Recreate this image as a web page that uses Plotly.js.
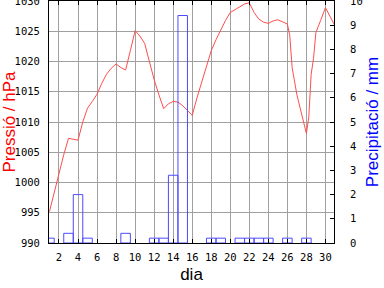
<!DOCTYPE html>
<html>
<head>
<meta charset="utf-8">
<script src="https://cdn.plot.ly/plotly-3.0.1.min.js"></script>
<style>html,body{margin:0;padding:0;background:#fff;}#chart{width:384px;height:288px;}</style>
</head>
<body>
<div id="chart"></div>
<script>
var pressDays = [1,1.5,2,2.5,3,3.5,4,4.5,5,5.5,6,6.5,7,7.5,8,8.5,9,9.5,10,10.5,11,11.5,12,12.5,13,13.5,14,14.5,15,15.5,16,16.5,17,17.5,18,18.5,19,19.5,20,20.5,21,21.5,22,22.5,23,23.5,24,24.5,25,25.5,26,26.25,26.5,27,27.5,28,28.25,28.5,28.75,29,29.5,30,30.5,31];
var pressure = [995.2,998.4,1001.6,1004.6,1007.3,1007.2,1007.0,1010.0,1012.3,1013.4,1014.6,1016.4,1017.9,1018.9,1019.6,1019.0,1018.6,1021.8,1025.1,1024.2,1023.0,1020.0,1017.0,1014.5,1012.2,1013.0,1013.4,1013.3,1012.7,1011.9,1011.1,1014.0,1016.6,1019.3,1021.8,1023.6,1025.3,1026.8,1028.1,1028.6,1029.0,1029.5,1029.7,1028.1,1027.0,1026.5,1026.3,1026.7,1026.9,1026.6,1026.2,1024.3,1019.0,1014.5,1011.4,1008.1,1010.8,1017.9,1020.5,1024.8,1026.8,1028.9,1027.4,1025.9];
var rainDays = [1,3,4,5,9,12,13,14,15,18,19,21,22,23,24,26,28];
var rain = [0.2,0.4,2.0,0.2,0.4,0.2,0.2,2.8,9.4,0.2,0.2,0.2,0.2,0.2,0.2,0.2,0.2];
var xTicks = [2,4,6,8,10,12,14,16,18,20,22,24,26,28,30];
var yTicks = [990,995,1000,1005,1010,1015,1020,1025,1030];
var y2Ticks = [0,1,2,3,4,5,6,7,8,9,10];

var tickFont = {family: 'DejaVu Sans Mono', size: 10.5, color: '#000'};
var traces = [
  {x: rainDays, y: rain, type: 'bar', yaxis: 'y2', width: 1,
   marker: {color: 'rgba(0,0,0,0)', line: {color: '#4b4bff', width: 1}},
   hoverinfo: 'none', showlegend: false},
  {x: pressDays, y: pressure, type: 'scatter', mode: 'lines',
   line: {color: '#ff4d4d', width: 1}, showlegend: false, hoverinfo: 'none'}
];
var layout = {
  width: 384, height: 288,
  margin: {l: 49, r: 50, t: 1, b: 45, pad: 0},
  paper_bgcolor: '#fff', plot_bgcolor: '#fff',
  showlegend: false,
  xaxis: {range: [0.95, 30.9], tickvals: xTicks, ticktext: xTicks.map(String),
    ticks: 'inside', ticklen: 4, tickcolor: '#000', tickfont: tickFont,
    showgrid: true, gridcolor: '#a0a0a0', gridwidth: 1,
    showline: true, linecolor: '#000', linewidth: 1, mirror: 'ticks',
    zeroline: false, ticklabelstandoff: 4, ticklabeloverflow: 'allow',
    title: {text: 'dia', font: {family: 'Liberation Sans', size: 17, color: '#000'}, standoff: 6}},
  yaxis: {range: [990, 1030], tickvals: yTicks, ticktext: yTicks.map(String),
    ticks: '', tickfont: tickFont,
    showgrid: true, gridcolor: '#a0a0a0', gridwidth: 1,
    showline: true, linecolor: '#000', linewidth: 1,
    zeroline: false, ticklabelstandoff: 6, ticklabeloverflow: 'allow',
    title: {text: 'Pressió / hPa', font: {family: 'Liberation Sans', size: 17, color: '#ff0000'}, standoff: 0}},
  yaxis2: {range: [0, 10], overlaying: 'y', side: 'right', tickvals: y2Ticks, ticktext: y2Ticks.map(String),
    ticks: 'inside', ticklen: 4, tickcolor: '#000', tickfont: tickFont,
    showgrid: false, showline: true, linecolor: '#000', linewidth: 1,
    zeroline: false, ticklabelstandoff: 13, ticklabeloverflow: 'allow',
    title: {text: 'Precipitació / mm', font: {family: 'Liberation Sans', size: 17, color: '#0000ff'}, standoff: 4}}
};
Plotly.newPlot('chart', traces, layout, {staticPlot: true, displayModeBar: false});
</script>
</body>
</html>
